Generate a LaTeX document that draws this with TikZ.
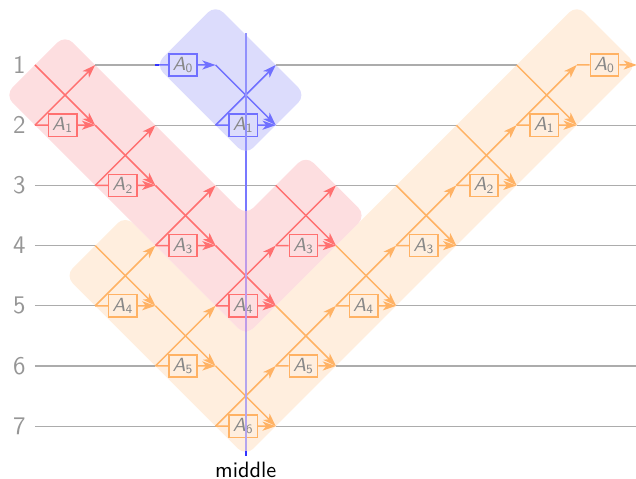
\documentclass[tikz,border=0pt]{standalone}
\usetikzlibrary{arrows.meta,calc}
\definecolor{redln}{RGB}{255,112,112}
\definecolor{orln}{RGB}{255,178,100}
\definecolor{blln}{RGB}{112,112,255}
\definecolor{redbg}{RGB}{253,222,224}
\definecolor{orbg}{RGB}{255,238,222}
\definecolor{blbg}{RGB}{220,220,252}
\definecolor{wire}{RGB}{172,172,172}
\definecolor{txt}{RGB}{136,136,136}
\definecolor{lvl}{RGB}{150,150,150}
\definecolor{deepblue}{RGB}{50,50,255}
\definecolor{midblue}{RGB}{120,120,255}
\definecolor{midonbl}{RGB}{145,145,252}
\definecolor{midonred}{RGB}{190,155,232}
\definecolor{midonor}{RGB}{180,165,238}

\newcommand{\alab}[1]{\textsf{\textit{A}}\textsubscript{\textsf{#1}}}

\tikzset{
  wireln/.style={draw=wire, line width=0.55pt},
  gline/.style={line width=0.7pt},
  arr/.style={-{Stealth[length=2.2mm,width=1.5mm,inset=0.6mm]}},
  gbox/.style={draw=#1, line width=0.7pt, minimum width=0.47cm, minimum height=0.37cm,
    inner sep=0pt, text=txt, font=\fontsize{9}{10}\selectfont},
  bgshape/.style={fill=#1, draw=none, rounded corners=0.18cm},
  lvllab/.style={anchor=east, text=lvl, font=\fontsize{12}{14}\selectfont\sffamily, inner sep=0.15cm},
  midln/.style={draw=#1, line width=0.8pt},
}

% full gate: column, top level, colour, label, name
\newcommand{\mkgate}[5]{%
  \pgfmathtruncatemacro{\gcn}{#1+1}%
  \pgfmathtruncatemacro{\gkn}{#2+1}%
  \node[gbox=#3] (#5) at ($(g-#1-\gkn)!0.46!(g-\gcn-\gkn)$) {\alab{#4}};
  \draw[#3, gline] (g-#1-\gkn) -- (#5.west);
  \draw[#3, gline, arr] (#5.east) -- (g-\gcn-\gkn);
  \draw[#3, gline, arr] (g-#1-#2) -- (g-\gcn-\gkn);
  \draw[#3, gline, arr] (g-#1-\gkn) -- (g-\gcn-#2);
}
% single box on a wire: column, level, colour, label, name
\newcommand{\mkhalf}[5]{%
  \pgfmathtruncatemacro{\gcn}{#1+1}%
  \node[gbox=#3] (#5) at ($(g-#1-#2)!0.46!(g-\gcn-#2)$) {\alab{#4}};
  \draw[#3, gline] (g-#1-#2) -- (#5.west);
  \draw[#3, gline, arr] (#5.east) -- (g-\gcn-#2);
}

\begin{document}
\begin{tikzpicture}
\useasboundingbox (-0.581,0.0797) rectangle (9.984,-7.877);

\foreach \c in {0,...,10} {
  \foreach \k in {0,...,8} {
    \coordinate (g-\c-\k) at (\c,-\k);
  }
}
\foreach \k in {1,...,7} {
  \coordinate (e-\k) at (9.984,-\k);
}

% backgrounds
\fill[bgshape=orbg] (1.5,-3.5) -- (0.5,-4.5) -- (3.5,-7.5) -- (10,-1) -- (9,0) -- (3.5,-5.5) -- cycle;
\fill[bgshape=redbg] (0.5,-0.5) -- (-0.5,-1.5) -- (3.5,-5.5) -- (5.5,-3.5) -- (4.5,-2.5) -- (3.5,-3.5) -- cycle;
\fill[bgshape=blbg] (2,-1) -- (3,0) -- (4.5,-1.5) -- (3.5,-2.5) -- cycle;

% idle wires
\draw[wireln] (g-1-1) -- (g-2-1);
\draw[wireln] (g-4-1) -- (g-8-1);
\draw[wireln] (g-2-2) -- (g-3-2);
\draw[wireln] (g-4-2) -- (g-7-2);
\draw[wireln] (g-9-2) -- (e-2);
\draw[wireln] (g-0-3) -- (g-1-3);
\draw[wireln] (g-3-3) -- (g-4-3);
\draw[wireln] (g-5-3) -- (g-6-3);
\draw[wireln] (g-8-3) -- (e-3);
\draw[wireln] (g-0-4) -- (g-1-4);
\draw[wireln] (g-7-4) -- (e-4);
\draw[wireln] (g-0-5) -- (g-1-5);
\draw[wireln] (g-6-5) -- (e-5);
\draw[wireln] (g-0-6) -- (g-2-6);
\draw[wireln] (g-5-6) -- (e-6);
\draw[wireln] (g-0-7) -- (g-3-7);
\draw[wireln] (g-4-7) -- (e-7);

% level labels
\foreach \k in {1,...,7} {
  \node[lvllab] (lab\k) at (g-0-\k) {\k};
}

% red chain
\mkgate{0}{1}{redln}{1}{r1}
\mkgate{1}{2}{redln}{2}{r2}
\mkgate{2}{3}{redln}{3}{r3}
\mkgate{3}{4}{redln}{4}{r4}
\mkgate{4}{3}{redln}{3}{r3b}

% orange chain
\mkgate{1}{4}{orln}{4}{o4}
\mkgate{2}{5}{orln}{5}{o5}
\mkgate{3}{6}{orln}{6}{o6}
\mkgate{4}{5}{orln}{5}{o5b}
\mkgate{5}{4}{orln}{4}{o4b}
\mkgate{6}{3}{orln}{3}{o3b}
\mkgate{7}{2}{orln}{2}{o2b}
\mkgate{8}{1}{orln}{1}{o1b}
\mkhalf{9}{1}{orln}{0}{o0b}

% blue
\mkhalf{2}{1}{blln}{0}{b0}
\mkgate{3}{1}{blln}{1}{b1}
\coordinate (bstub) at (2.06,-1);
\draw[draw=deepblue, line width=0.7pt] (g-2-1) -- (bstub);

% middle line (coloured as it shows through each background)
\coordinate (mtop) at (3.5,-0.47);
\coordinate (m1) at (3.5,-2.43);
\coordinate (m2) at (3.5,-3.43);
\coordinate (m3) at (3.5,-5.43);
\coordinate (m4) at (3.5,-7.42);
\coordinate (mbot) at (3.5,-7.49);
\node[anchor=base, font=\fontsize{10.5}{12}\selectfont\sffamily, inner sep=0pt] (mid) at (3.5,-7.845) {middle};
\draw[midln=midonbl] (mtop) -- (m1);
\draw[midln=midblue] (m1) -- (m2);
\draw[midln=midonred] (m2) -- (m3);
\draw[midln=midonor] (m3) -- (m4);
\draw[midln=deepblue] (m4) -- (mbot);
\end{tikzpicture}
\end{document}
